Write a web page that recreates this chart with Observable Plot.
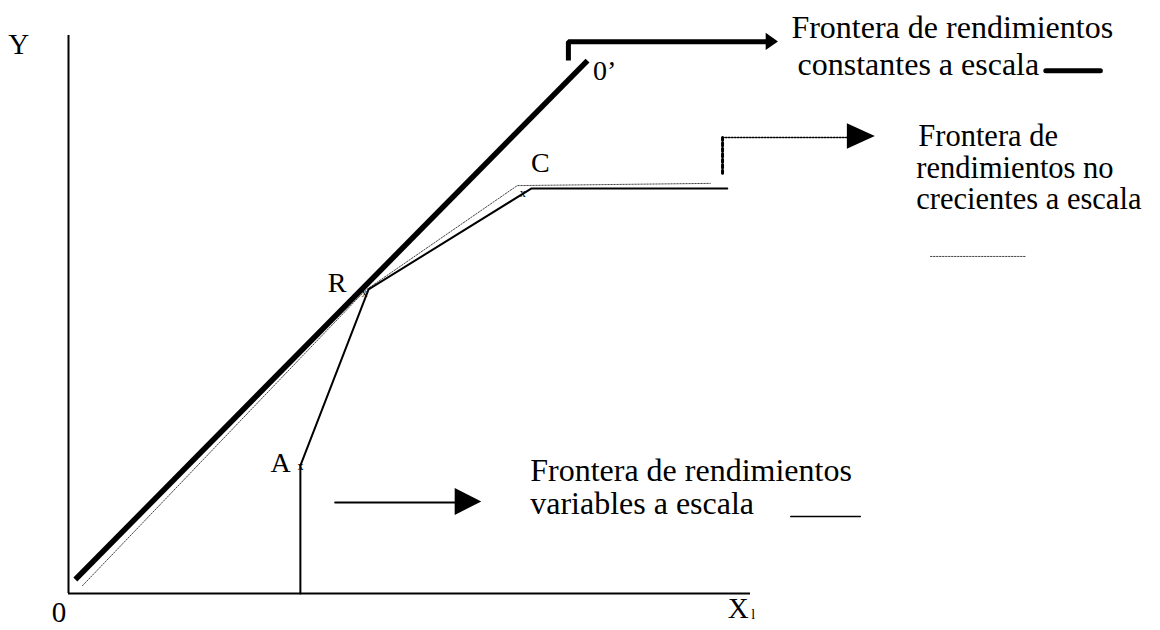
<!DOCTYPE html>
<html>
<head>
<meta charset="utf-8">
<script src="https://cdn.jsdelivr.net/npm/d3@7"></script>
<script src="https://cdn.jsdelivr.net/npm/@observablehq/plot@0.6"></script>
<style>
  html, body { margin: 0; padding: 0; background: #fff; }
  #chart svg { display: block; }
</style>
</head>
<body>
<div id="chart"></div>
<script>
// Frontier vertices (axis units 0..100)
const crsX = [1.0, 76.1];
const crsY = [2.5, 95.5];
const vrsX = [34.0, 34.0, 44.0, 67.9, 96.6];
const vrsY = [0, 22.9, 54.5, 72.6, 72.6];
const nirsX = [2.05, 43.5, 65.8, 94.1];
const nirsY = [1.4, 54.3, 73.1, 73.5];

// Point labels
const pointText = ["A", "R", "C", "0’"];
const pointX = [31.1, 39.4, 69.2, 78.6];
const pointY = [23.3, 55.6, 77.2, 93.6];

// small vertex marks
const markX = [34.0, 43.4, 66.6];
const markY = [22.8, 53.9, 71.7];

// Axis labels
const axisText = ["Y", "0", "X"];
const axisX = [-7.3, -1.4, 98.2];
const axisY = [98.4, -3.4, -2.7];

// Annotation arrows: shafts
const crsArrowX = [73.3, 73.3, 102.6];
const crsArrowY = [95.5, 98.9, 98.9];
const nirsArrowVX = [95.9, 95.9];
const nirsArrowVY = [75.3, 81.7];
const nirsArrowHX = [95.9, 114.2];
const nirsArrowHY = [81.7, 81.7];
const vrsArrowX = [39.1, 57.2];
const vrsArrowY = [16.3, 16.3];

// Arrow heads
const headBaseX = [102.3, 114.2, 56.7];
const headTipX = [104.1, 118.3, 60.6];
const headLoY = [97.3, 79.6, 14.0];
const headHiY = [100.4, 84.2, 18.8];
const headMidY = [98.85, 81.9, 16.4];

// Legend texts
const legendText = [
  "Frontera de rendimientos", "constantes a escala",
  "Frontera de", "rendimientos no", "crecientes a escala",
  "Frontera de rendimientos", "variables a escala"
];
const legendX = [106.0, 106.9, 124.6, 124.3, 124.3, 67.7, 67.7];
const legendY = [101.3, 94.8, 81.9, 76.2, 70.6, 22.0, 16.1];
const legendSize = [32, 32, 30.5, 30.5, 30.5, 32, 32];

// Legend swatches
const swCrsX = [143.3, 151.3], swCrsY = [93.7, 93.7];
const swNirsX = [126.4, 140.3], swNirsY = [60.4, 60.4];
const swVrsX = [105.9, 116.1], swVrsY = [13.8, 13.8];

const pts = (xs, ys) => xs.map((x, i) => ({x, y: ys[i]}));
const font = "'Liberation Serif', 'Times New Roman', serif";

const heads = headBaseX.map((b, i) => [
  {x: b, y1: headLoY[i], y2: headHiY[i]},
  {x: headTipX[i], y1: headMidY[i], y2: headMidY[i]}
]);

const chart = Plot.plot({
  width: 1160,
  height: 630,
  margin: 0,
  x: {domain: [0, 100], range: [68, 750], axis: null},
  y: {domain: [0, 100], range: [593, 35], axis: null},
  style: {background: "#fff", fontFamily: font},
  marks: [
    // axes
    Plot.ruleX([0], {y1: 0, y2: 100, stroke: "black", strokeWidth: 2}),
    Plot.ruleY([0], {x1: 0, x2: 100, stroke: "black", strokeWidth: 2}),
    // NIRS dotted frontier
    Plot.line(pts(nirsX, nirsY), {x: "x", y: "y", stroke: "#444", strokeWidth: 1, strokeDasharray: "1.5,1.5"}),
    // CRS thick line
    Plot.line(pts(crsX, crsY), {x: "x", y: "y", stroke: "black", strokeWidth: 5.5, strokeLinecap: "butt"}),
    // VRS frontier
    Plot.line(pts(vrsX, vrsY), {x: "x", y: "y", stroke: "black", strokeWidth: 2, strokeLinejoin: "miter"}),
    // CRS annotation arrow
    Plot.line(pts(crsArrowX, crsArrowY), {x: "x", y: "y", stroke: "black", strokeWidth: 5, strokeLinejoin: "miter", strokeLinecap: "butt"}),
    // NIRS annotation arrow
    Plot.line(pts(nirsArrowVX, nirsArrowVY), {x: "x", y: "y", stroke: "black", strokeWidth: 3, strokeDasharray: "3,2.5"}),
    Plot.line(pts(nirsArrowHX, nirsArrowHY), {x: "x", y: "y", stroke: "black", strokeWidth: 1.5, strokeDasharray: "1.5,1.5"}),
    // VRS annotation arrow
    Plot.line(pts(vrsArrowX, vrsArrowY), {x: "x", y: "y", stroke: "black", strokeWidth: 2}),
    // arrow heads
    ...heads.map(h => Plot.areaY(h, {x: "x", y1: "y1", y2: "y2", fill: "black"})),
    // legend swatches
    Plot.line(pts(swCrsX, swCrsY), {x: "x", y: "y", stroke: "black", strokeWidth: 5}),
    Plot.line(pts(swNirsX, swNirsY), {x: "x", y: "y", stroke: "#444", strokeWidth: 1, strokeDasharray: "1.5,1.5"}),
    Plot.line(pts(swVrsX, swVrsY), {x: "x", y: "y", stroke: "black", strokeWidth: 1.5}),
    // point labels
    Plot.text(pointText, {x: (d, i) => pointX[i], y: (d, i) => pointY[i], text: d => d, fontSize: 28, fill: "black", fontFamily: font}),
    Plot.text(markX, {x: d => d, y: (d, i) => markY[i], text: () => "x", fontSize: 12, fill: "black", fontFamily: font}),
    // axis labels
    Plot.text(axisText, {x: (d, i) => axisX[i], y: (d, i) => axisY[i], text: d => d, fontSize: 29, fill: "black", fontFamily: font}),
    Plot.text(["l"], {x: [100.4], y: [-3.8], text: d => d, fontSize: 14, fill: "black", fontFamily: font}),
    // legend texts
    Plot.text(legendText, {x: (d, i) => legendX[i], y: (d, i) => legendY[i], text: d => d, fontSize: (d, i) => legendSize[i], textAnchor: "start", fill: "black", fontFamily: font})
  ]
});

document.getElementById("chart").appendChild(chart);
</script>
</body>
</html>
